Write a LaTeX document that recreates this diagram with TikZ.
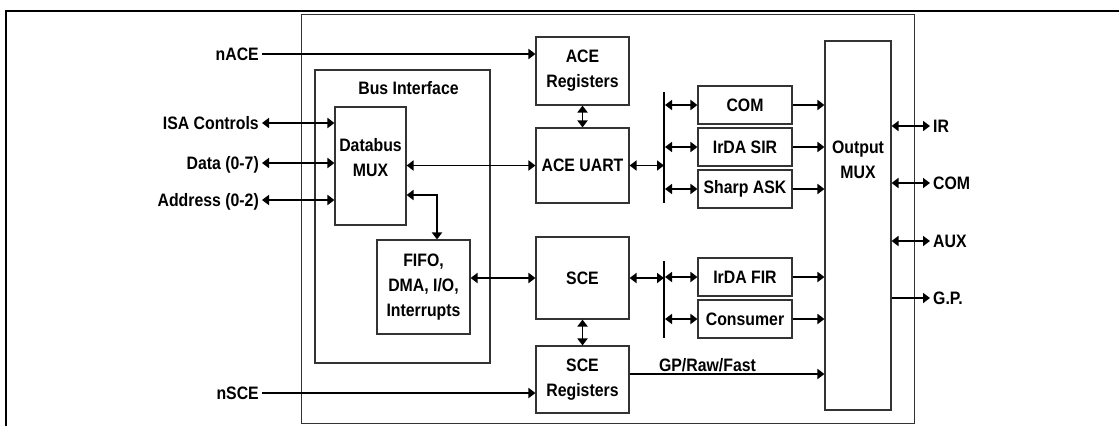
\documentclass[tikz,border=0pt]{standalone}
\usepackage{fontspec}
\setmainfont{Liberation Sans}[FakeStretch=0.88]
\usetikzlibrary{arrows.meta, positioning}

\begin{document}
\begin{tikzpicture}[x=1pt, y=-1pt, font=\fontsize{18}{25}\selectfont\bfseries]
    % Styles
    \tikzstyle{blok} = [rectangle, draw=black!80, line width=1.1pt, align=center, inner sep=0pt, minimum width=93pt]
    \tikzstyle{pin} = [inner xsep=3pt, inner ysep=0pt, text height=13pt, text depth=0pt]
    \tikzstyle{arrow} = [line width=1.8pt, -{Triangle[length=7pt,width=10pt]}]
    \tikzstyle{dbl} = [line width=1.8pt, {Triangle[length=7pt,width=10pt]}-{Triangle[length=7pt,width=10pt]}]
    \tikzstyle{bus} = [line width=2pt]

    \useasboundingbox (0,0) rectangle (1119,426);

    % Frames
    \draw [line width=2.2pt] (6,426) -- (6,11) -- (1119,11);
    \node (chip) [blok, line width=1pt, minimum width=613pt, minimum height=409pt] at (607.5,218.5) {};
    \node (busif) [blok, minimum width=175pt, minimum height=293pt,
        label={[below=8pt, xshift=6pt]north:Bus Interface}] at (402.5,216.5) {};

    % Blocks
    \node (dbmux) [blok, minimum width=71pt, minimum height=118pt,
        label={[align=center, yshift=8pt]center:Databus\\MUX}] at (370.5,166) {};
    \node (fifo) [blok, minimum height=94pt] at (423.5,287) {FIFO,\\DMA, I/O,\\Interrupts};
    \node (acereg) [blok, minimum height=68pt] at (582.5,71) {ACE\\Registers};
    \node (aceuart) [blok, minimum height=75pt] at (582.5,165.5) {ACE UART};
    \node (sce) [blok, minimum height=82pt] at (582.5,278) {SCE};
    \node (scereg) [blok, minimum height=67pt] at (582.5,379.5) {SCE\\Registers};
    \node (com) [blok, minimum width=94pt, minimum height=38pt] at (745,105) {COM};
    \node (sir) [blok, minimum width=94pt, minimum height=38pt] at (745,147) {IrDA SIR};
    \node (ask) [blok, minimum width=94pt, minimum height=38pt] at (745,189) {Sharp ASK};
    \node (fir) [blok, minimum width=94pt, minimum height=38pt] at (745,277) {IrDA FIR};
    \node (cons) [blok, minimum width=94pt, minimum height=38pt] at (745,319) {Consumer};
    \node (outmux) [blok, minimum width=66pt, minimum height=369pt,
        label={[align=center, yshift=66pt]center:Output\\MUX}] at (858,225.5) {};

    % Pins
    \node (nace) [pin, anchor=east] at (262,54) {nACE};
    \node (isa) [pin, anchor=east] at (262,123) {ISA Controls};
    \node (data) [pin, anchor=east] at (262,163) {Data (0-7)};
    \node (addr) [pin, anchor=east] at (262,200) {Address (0-2)};
    \node (nsce) [pin, anchor=east] at (262,393) {nSCE};
    \node (ir) [pin, anchor=west] at (930,126) {IR};
    \node (comout) [pin, anchor=west] at (930,183) {COM};
    \node (aux) [pin, anchor=west] at (930,241) {AUX};
    \node (gp) [pin, anchor=west] at (930,298) {G.P.};

    % Bus lines
    \coordinate (bustopa) at (664,92);
    \coordinate (busbota) at (664,203);
    \coordinate (bustopb) at (664,261);
    \coordinate (busbotb) at (664,338);
    \draw [bus] (bustopa) -- (busbota);
    \draw [bus] (bustopb) -- (busbotb);

    % Arrows
    \draw [arrow] (nace.east) -- (nace.east -| acereg.west);
    \draw [dbl] (isa.east) -- (isa.east -| dbmux.west);
    \draw [dbl] (data.east) -- (data.east -| dbmux.west);
    \draw [dbl] (addr.east) -- (addr.east -| dbmux.west);
    \draw [arrow] (nsce.east) -- (nsce.east -| scereg.west);

    \draw [dbl] (dbmux.east |- aceuart.west) -- (aceuart.west);
    \draw [dbl] ([yshift=-29pt]dbmux.east) -| ([xshift=13.5pt]fifo.north);
    \draw [dbl] (fifo.east |- sce.west) -- (sce.west);
    \draw [dbl] (acereg) -- (aceuart);
    \draw [dbl] (sce) -- (scereg);

    \draw [dbl] (aceuart.east) -- (aceuart.east -| bustopa);
    \draw [dbl] (sce.east) -- (sce.east -| bustopb);
    \draw [dbl] ([xshift=1pt]com.west -| bustopa) -- (com.west);
    \draw [dbl] ([xshift=1pt]sir.west -| bustopa) -- (sir.west);
    \draw [dbl] ([xshift=1pt]ask.west -| bustopa) -- (ask.west);
    \draw [dbl] ([xshift=1pt]fir.west -| bustopb) -- (fir.west);
    \draw [dbl] ([xshift=1pt]cons.west -| bustopb) -- (cons.west);

    \draw [arrow] (com.east) -- (com.east -| outmux.west);
    \draw [arrow] (sir.east) -- (sir.east -| outmux.west);
    \draw [arrow] (ask.east) -- (ask.east -| outmux.west);
    \draw [arrow] (fir.east) -- (fir.east -| outmux.west);
    \draw [arrow] (cons.east) -- (cons.east -| outmux.west);
    \draw [arrow] ([yshift=5.5pt]scereg.east) -- ([yshift=5.5pt]scereg.east -| outmux.west)
        node (gpraw) [pos=0.4, above=2pt, inner sep=0pt, text depth=0pt] {GP/Raw/Fast};

    \draw [dbl] (ir.west -| outmux.east) -- (ir.west);
    \draw [dbl] (comout.west -| outmux.east) -- (comout.west);
    \draw [dbl] (aux.west -| outmux.east) -- (aux.west);
    \draw [arrow] (gp.west -| outmux.east) -- (gp.west);
\end{tikzpicture}
\end{document}
